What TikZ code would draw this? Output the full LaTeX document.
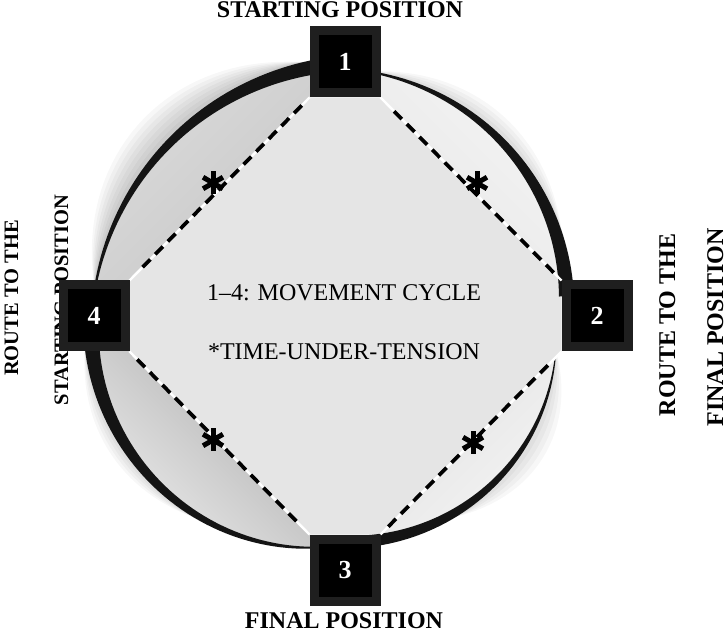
\documentclass[tikz,border=0pt]{standalone}
\usepackage{fontspec}
\setmainfont{Liberation Serif}
\usetikzlibrary{calc}
\pgfdeclarelayer{bg}
\pgfdeclarelayer{fg}
\pgfsetlayers{bg,main,fg}
\begin{document}
\begin{tikzpicture}[x=1pt,y=1pt,
  declare function={
    utl(\t)=(\t-93)/84;   rtl(\t)=247-32*utl(\t)+30*utl(\t)*utl(\t); wtl(\t)=15-13.5*utl(\t);
    utr(\t)=(84-\t)/80;   rtr(\t)=242.5-13.5*utr(\t);                wtr(\t)=1.5+13.5*utr(\t);
    ubr(\t)=(348-\t)/71;  rbr(\t)=222+28*ubr(\t)-19*ubr(\t)*ubr(\t); wbr(\t)=1+11*ubr(\t);
    ubl(\t)=(\t-186)/80;  rbl(\t)=248+17.4*ubl(\t)-29.4*ubl(\t)*ubl(\t); wbl(\t)=15-13.5*ubl(\t);
  },
  posbox/.style={draw=black!88, fill=black, line width=9pt, minimum size=62pt, inner sep=0pt,
    text=white, font=\fontsize{26}{26}\selectfont\bfseries},
  ringc/.style={fill=black!92},
  feather/.style={fill=black, opacity=0.03},
  edgewhite/.style={draw=white, line width=2.4pt},
  edgedash/.style={draw=black, line width=3.7pt, dash pattern=on 11pt off 7pt, shorten <=11pt, shorten >=18pt},
  ast/.style={minimum size=28pt, inner sep=0pt, path picture={
    \foreach \a in {90,30,-30}
      \draw[line width=5pt, black] ($(path picture bounding box.center)+(\a:11.5)$) -- ($(path picture bounding box.center)+(\a+180:11.5)$);}},
  titletext/.style={font=\fontsize{24}{24}\selectfont\bfseries, inner sep=0pt, anchor=base},
  sidel/.style={font=\fontsize{20.5}{20.5}\selectfont\bfseries, inner sep=0pt, rotate=90, anchor=base},
  sider/.style={font=\fontsize{24}{24}\selectfont\bfseries, inner sep=0pt, rotate=90, anchor=base},
  midtext/.style={font=\fontsize{24}{24}\selectfont, inner sep=0pt, anchor=base}
]
\useasboundingbox (0,0) rectangle (728,632);

% boxes (foreground)
\begin{pgfonlayer}{fg}
\node[posbox] (b1) at (345,570) {1};
\node[posbox] (b2) at (597,316) {2};
\node[posbox] (b3) at (345,62) {3};
\node[posbox] (b4) at (94,316) {4};
\end{pgfonlayer}

% background and soft shadings
\begin{pgfonlayer}{bg}
\fill[white] (0,0) rectangle (728,632);
\begin{scope}[shift={(338,320)}]
  % outer feathers
  \foreach \k in {1,...,7}{
    \fill[feather] plot[domain=98:174,samples=40] (\x:{rtl(\x)})
      -- plot[domain=174:98,samples=40] (\x:{rtl(\x)+wtl(\x)/2+4.5*\k*sin(180*(\x-98)/76)}) -- cycle;
  }
  \foreach \k in {1,...,4}{
    \fill[feather] plot[domain=82:20,samples=30] (\x:{rtr(\x)})
      -- plot[domain=20:82,samples=30] (\x:{rtr(\x)+wtr(\x)/2+4*\k*sin(180*(\x-20)/62)}) -- cycle;
    \fill[feather] plot[domain=350:300,samples=30] (\x:{rbr(\x)})
      -- plot[domain=300:350,samples=30] (\x:{rbr(\x)+wbr(\x)/2+5*\k*sin(180*(\x-300)/50)}) -- cycle;
    \fill[feather] plot[domain=188:235,samples=30] (\x:{rbl(\x)})
      -- plot[domain=235:188,samples=30] (\x:{rbl(\x)+wbl(\x)/2+3*\k*sin(180*(\x-188)/47)}) -- cycle;
  }
  % inner bands between ring and diamond
  \shade[top color=black!14, middle color=black!34, bottom color=black!22, shading angle=45]
    (b1.south west) -- (b4.north east)
    -- plot[domain=175:95,samples=40] (\x:{rtl(\x)}) -- cycle;
  \shade[top color=black!8, middle color=black!26, bottom color=black!32, shading angle=135]
    (b4.south east) -- (b3.north west)
    -- plot[domain=264:187,samples=40] (\x:{rbl(\x)}) -- cycle;
  \shade[top color=black!4, middle color=black!14, bottom color=black!12, shading angle=-135]
    (b3.north east) -- (b2.south west)
    -- plot[domain=348:278,samples=40] (\x:{rbr(\x)}) -- cycle;
  \shade[top color=black!4, middle color=black!12, bottom color=black!10, shading angle=-45]
    (b2.north west) -- (b1.south east)
    -- plot[domain=83:5,samples=40] (\x:{rtr(\x)}) -- cycle;
\end{scope}
\end{pgfonlayer}

% diamond area
\fill[black!10] (b1.south west) -- (b4.north east) -- (b4.south east) -- (b3.north west)
  -- (b3.north east) -- (b2.south west) -- (b2.north west) -- (b1.south east) -- cycle;

% ring swooshes
\begin{scope}[shift={(338,320)}]
  \fill[ringc] plot[domain=93:177,samples=50] (\x:{rtl(\x)+wtl(\x)/2})
    -- plot[domain=177:93,samples=50] (\x:{rtl(\x)-wtl(\x)/2}) -- cycle;
  \fill[ringc] plot[domain=84:4,samples=50] (\x:{rtr(\x)+wtr(\x)/2})
    -- plot[domain=4:84,samples=50] (\x:{rtr(\x)-wtr(\x)/2}) -- cycle;
  \fill[ringc] plot[domain=348:277,samples=50] (\x:{rbr(\x)+wbr(\x)/2})
    -- plot[domain=277:348,samples=50] (\x:{rbr(\x)-wbr(\x)/2}) -- cycle;
  \fill[ringc] plot[domain=186:266,samples=50] (\x:{rbl(\x)+wbl(\x)/2})
    -- plot[domain=266:186,samples=50] (\x:{rbl(\x)-wbl(\x)/2}) -- cycle;
\end{scope}

% edges of the movement cycle
\draw[edgewhite] (b1.south west) -- (b4.north east);
\draw[edgewhite] (b4.south east) -- (b3.north west);
\draw[edgewhite] (b3.north east) -- (b2.south west);
\draw[edgewhite] (b2.north west) -- (b1.south east);
\draw[edgedash] (b1.south west) -- (b4.north east);
\draw[edgedash] (b4.south east) -- (b3.north west);
\draw[edgedash] (b3.north east) -- (b2.south west);
\draw[edgedash] (b2.north west) -- (b1.south east);

% time-under-tension marks
\node[ast] (s1) at (213,449) {};
\node[ast] (s2) at (477,449) {};
\node[ast] (s3) at (213,192) {};
\node[ast] (s4) at (473,189) {};

% texts
\node[titletext] (t1) at (340,614) {STARTING POSITION};
\node[titletext] (t3) at (344,4) {FINAL POSITION};
\node[sidel] (l1) at (18,334) {ROUTE TO THE};
\node[sidel] (l2) at (68,332) {STARTING POSITION};
\node[sider] (r1) at (675,307) {ROUTE TO THE};
\node[sider] (r2) at (723,304.5) {FINAL POSITION};
\node[midtext] (m1) at (344,331) {1–4: MOVEMENT CYCLE};
\node[midtext] (m2) at (344,272) {*TIME-UNDER-TENSION};
\end{tikzpicture}
\end{document}
